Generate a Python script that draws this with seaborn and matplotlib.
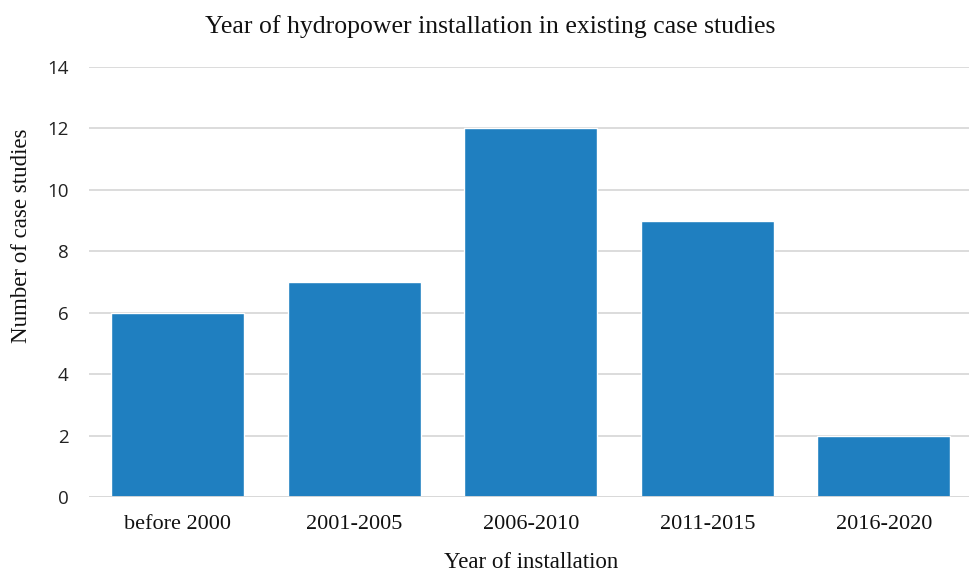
import matplotlib
matplotlib.use("Agg")
import matplotlib.pyplot as plt
import seaborn as sns
import pandas as pd

# Installation periods and how many case studies fall into each
periods = ["before 2000", "2001-2005", "2006-2010", "2011-2015", "2016-2020"]
case_counts = [6, 7, 12, 9, 2]
y_ticks = [0, 2, 4, 6, 8, 10, 12, 14]

df = pd.DataFrame({"period": periods, "count": case_counts})

sns.set_theme(style="white")
serif = ["Liberation Serif", "DejaVu Serif"]
sans = ["Open Sans", "DejaVu Sans"]

fig = plt.figure(figsize=(9.69, 5.72), dpi=100)
ax = fig.add_axes([89.2 / 969, 1 - 497 / 572, 883 / 969, (497 - 67) / 572])

sns.barplot(data=df, x="period", y="count", color="#1f7fc0", width=0.753,
            saturation=1, ax=ax, zorder=3)

ax.set_ylim(0, 14)
ax.set_xlim(-0.5, len(periods) - 0.5)
ax.set_yticks(y_ticks)
ax.set_yticklabels([str(t) for t in y_ticks], family=sans, fontsize=13.5, color="#222222")
ax.set_xticks(range(len(periods)))
ax.set_xticklabels(periods, family=serif, fontsize=16, color="#111111")
ax.tick_params(axis="both", length=0)
ax.tick_params(axis="y", pad=15)
ax.tick_params(axis="x", pad=13)

ax.grid(axis="y", color="#d9d9d9", linewidth=1.3, zorder=0)
ax.grid(axis="x", visible=False)
for side in ["top", "right", "left", "bottom"]:
    ax.spines[side].set_visible(False)
ax.axhline(0, color="#d9d9d9", linewidth=1.3, zorder=4)

ax.set_xlabel("Year of installation", family=serif, fontsize=16.5, color="#111111", labelpad=13)
ax.set_ylabel("Number of case studies", family=serif, fontsize=16.5, color="#111111")
ax.yaxis.set_label_coords(-0.0648, 0.607)
fig.text(490 / 969, 1 - 27 / 572, "Year of hydropower installation in existing case studies",
         family=serif, fontsize=18.5, color="#111111", ha="center", va="center")

fig.savefig("out.png", dpi=100, facecolor="white")
